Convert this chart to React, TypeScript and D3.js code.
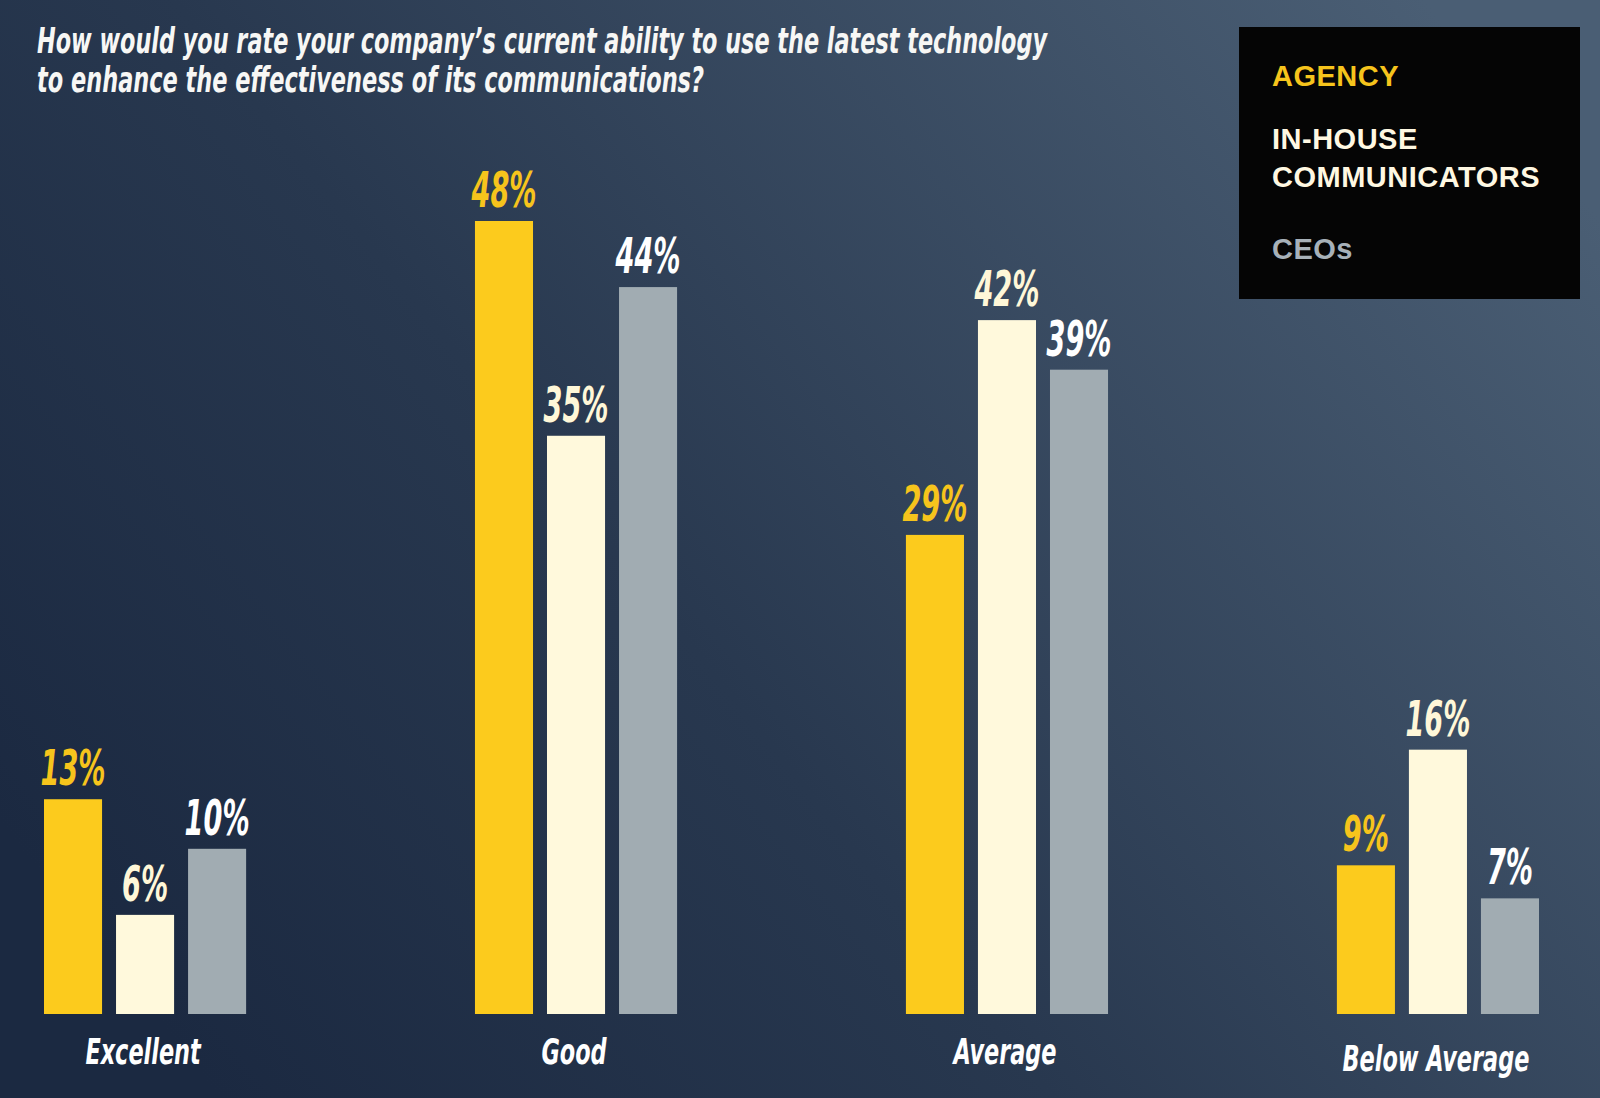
import { useEffect, useRef } from 'react';
import * as d3 from 'd3';

const categories = ['Excellent', 'Good', 'Average', 'Below Average'];
const seriesKeys = ['agency', 'inHouse', 'ceos'];
const agency = [13, 48, 29, 9];
const inHouse = [6, 35, 42, 16];
const ceos = [10, 44, 39, 7];
const legendLines = [['AGENCY'], ['IN-HOUSE', 'COMMUNICATORS'], ['CEOs']];
const titleLines = [
  'How would you rate your company\u2019s current ability to use the latest technology',
  'to enhance the effectiveness of its communications?',
];

const W = 1600;
const H = 1098;
const BAR_COLORS = ['#fccb1d', '#fff9dc', '#a1acb2'];
const LABEL_COLORS = ['#f6c41c', '#fff7d8', '#ffffff'];
const LEGEND_COLORS = ['#f6c41c', '#fff8e2', '#a7b1b9'];
const COND = "'Liberation Sans Narrow', 'DejaVu Sans Condensed', 'Roboto Condensed', 'Arial Narrow', sans-serif";

interface Cell {
  cat: string;
  key: string;
  idx: number;
  value: number;
}

export default function App() {
  const svgRef = useRef<SVGSVGElement>(null);

  useEffect(() => {
    if (!svgRef.current) return;
    const svg = d3.select(svgRef.current);
    svg.selectAll('*').remove();

    // background gradient
    const defs = svg.append('defs');
    const grad = defs
      .append('linearGradient')
      .attr('id', 'bg')
      .attr('x1', 0)
      .attr('y1', 0.75)
      .attr('x2', 1)
      .attr('y2', 0.2);
    grad.append('stop').attr('offset', '0%').attr('stop-color', '#1b2941');
    grad.append('stop').attr('offset', '40%').attr('stop-color', '#28384f');
    grad.append('stop').attr('offset', '100%').attr('stop-color', '#4a5e74');
    svg.append('rect').attr('width', W).attr('height', H).attr('fill', 'url(#bg)');

    // title
    const titleEnds = [1047, 704];
    svg
      .append('g')
      .selectAll('text')
      .data(titleLines)
      .join('text')
      .attr('x', 37)
      .attr('y', (_d: string, i: number) => 53 + i * 39)
      .attr('fill', '#f7f7f5')
      .attr('font-family', COND)
      .attr('font-weight', 'bold')
      .attr('font-style', 'italic')
      .attr('font-size', 35)
      .attr('textLength', (_d: string, i: number) => titleEnds[i] - 37)
      .attr('lengthAdjust', 'spacingAndGlyphs')
      .text((d: string) => d);

    // legend
    const lg = svg.append('g');
    lg.append('rect').attr('x', 1239).attr('y', 27).attr('width', 341).attr('height', 272).attr('fill', '#050505');
    const legendY = [[86], [149, 187], [259]];
    legendLines.forEach((lines, i) => {
      lines.forEach((line, j) => {
        lg.append('text')
          .attr('x', 1272)
          .attr('y', legendY[i][j])
          .attr('fill', LEGEND_COLORS[i])
          .attr('font-family', "'Liberation Sans', Arial, sans-serif")
          .attr('font-weight', 'bold')
          .attr('font-size', 29)
          .attr('letter-spacing', 0.5)
          .text(line);
      });
    });

    // scales
    const x0 = d3.scaleBand<string>().domain(categories).range([44, 1539]).paddingInner(0.531).paddingOuter(0);
    const x1 = d3.scaleBand<string>().domain(seriesKeys).range([0, x0.bandwidth()]).paddingInner(0.194);
    const y = d3.scaleLinear().domain([0, 48]).range([1014, 221]);

    const values = [agency, inHouse, ceos];
    const cells: Cell[] = [];
    categories.forEach((cat, ci) => {
      seriesKeys.forEach((key, si) => {
        cells.push({ cat, key, idx: si, value: values[si][ci] });
      });
    });

    const bx = (d: Cell) => (x0(d.cat) ?? 0) + (x1(d.key) ?? 0);

    svg
      .append('g')
      .selectAll('rect')
      .data(cells)
      .join('rect')
      .attr('x', bx)
      .attr('y', (d: Cell) => y(d.value))
      .attr('width', x1.bandwidth())
      .attr('height', (d: Cell) => y(0) - y(d.value))
      .attr('fill', (d: Cell) => BAR_COLORS[d.idx]);

    const valueLabels = svg
      .append('g')
      .selectAll('text')
      .data(cells)
      .join('text')
      .attr('text-anchor', 'middle')
      .attr('fill', (d: Cell) => LABEL_COLORS[d.idx])
      .attr('font-family', COND)
      .attr('font-weight', 'bold')
      .attr('font-style', 'italic')
      .attr('font-size', 49)
      .text((d: Cell) => `${d.value}%`);

    // compress the condensed face to match the reference widths
    let kv = 0.75;
    valueLabels.each(function (this: SVGTextElement, d: Cell) {
      if (d.value === 48) {
        const len = this.getComputedTextLength();
        if (len > 0) kv = 65 / len;
      }
    });
    valueLabels.attr(
      'transform',
      (d: Cell) => `translate(${bx(d) + x1.bandwidth() / 2},${y(d.value) - 14}) scale(${kv},1)`,
    );

    const catLabels = svg
      .append('g')
      .selectAll('text')
      .data(categories)
      .join('text')
      .attr('text-anchor', 'middle')
      .attr('fill', '#ffffff')
      .attr('font-family', COND)
      .attr('font-weight', 'bold')
      .attr('font-style', 'italic')
      .attr('font-size', 36)
      .text((d: string) => d);

    let kc = 0.9;
    catLabels.each(function (this: SVGTextElement, d: string) {
      if (d === 'Below Average') {
        const len = this.getComputedTextLength();
        if (len > 0) kc = 187 / len;
      }
    });
    catLabels.attr(
      'transform',
      (d: string) =>
        `translate(${(x0(d) ?? 0) + x0.bandwidth() / 2 - 2},${d === 'Below Average' ? 1071 : 1064}) scale(${kc},1)`,
    );
  }, []);

  return (
    <svg
      ref={svgRef}
      width={W}
      height={H}
      viewBox={`0 0 ${W} ${H}`}
      style={{ position: 'absolute', left: 0, top: 0, display: 'block' }}
    />
  );
}
